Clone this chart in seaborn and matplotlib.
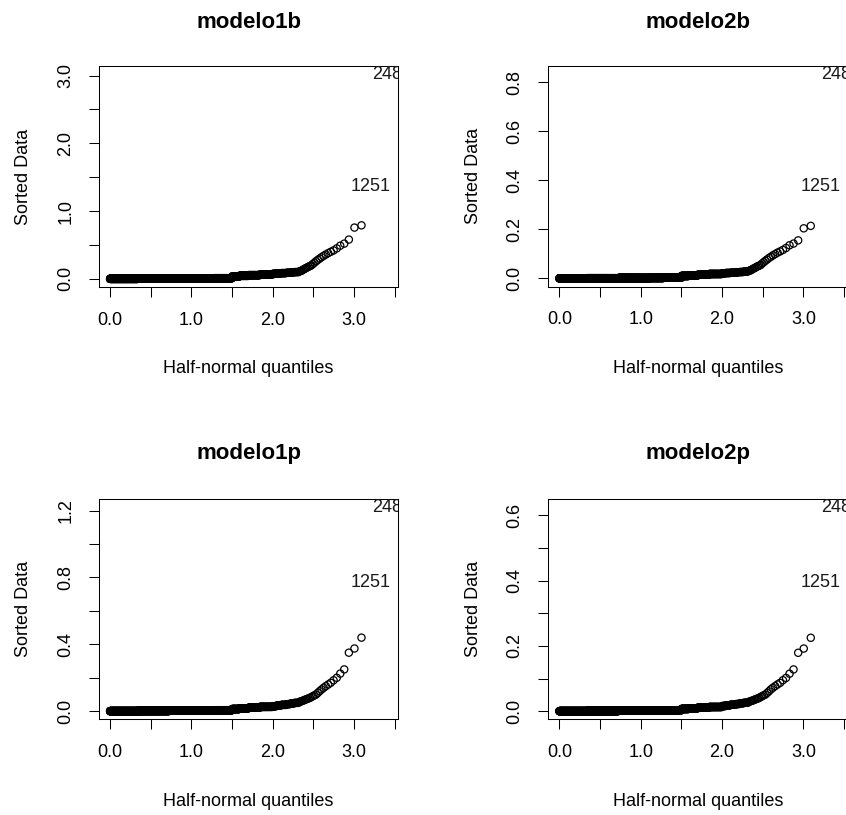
import numpy as np
import pandas as pd
import matplotlib
matplotlib.use("Agg")
import matplotlib.pyplot as plt
import seaborn as sns
from statistics import NormalDist

# ---------------- data ----------------
N_OBS = 1500
label_top = "248"      # largest value
label_second = "1251"  # second largest value

titles = ["modelo1b", "modelo2b", "modelo1p", "modelo2p"]

# largest sorted values (descending), then the dense bulk as (level, count) runs
m1b_tail = [3.02, 1.37, 0.79, 0.757, 0.58, 0.52, 0.49, 0.45, 0.42, 0.40,
            0.38, 0.36, 0.34, 0.32, 0.30, 0.28, 0.26, 0.24, 0.22, 0.20,
            0.19, 0.18, 0.17, 0.16, 0.15, 0.14, 0.13, 0.12, 0.115, 0.11]
m1b_levels = [0.10, 0.095, 0.09, 0.085, 0.08, 0.075, 0.065, 0.055, 0.045, 0.035,
              0.01, 0.008, 0.005, 0.003, 0.001]
m1b_counts = [5, 5, 5, 8, 8, 7, 30, 35, 35, 32, 100, 100, 300, 400, 400]

m2b_tail = [0.832, 0.373, 0.214, 0.204, 0.155, 0.142, 0.135, 0.124, 0.116, 0.11,
            0.105, 0.099, 0.094, 0.088, 0.083, 0.077, 0.072, 0.066, 0.061, 0.055,
            0.052, 0.05, 0.047, 0.044, 0.041, 0.039, 0.036, 0.033, 0.032, 0.03]
m2b_levels = [0.028, 0.026, 0.025, 0.023, 0.022, 0.021, 0.018, 0.015, 0.012, 0.01,
              0.003, 0.002, 0.0014, 0.0008, 0.0003]
m2b_counts = [5, 5, 5, 8, 8, 7, 30, 35, 35, 32, 100, 100, 300, 400, 400]

m1p_tail = [1.22, 0.77, 0.44, 0.375, 0.35, 0.25, 0.225, 0.20, 0.185, 0.17,
            0.16, 0.15, 0.14, 0.13, 0.12, 0.11, 0.10, 0.095, 0.09, 0.085,
            0.08, 0.077, 0.074, 0.071, 0.068, 0.065, 0.062, 0.06, 0.058, 0.055]
m1p_levels = [0.05, 0.046, 0.042, 0.038, 0.034, 0.03, 0.026, 0.021, 0.017, 0.013,
              0.006, 0.004, 0.003, 0.002, 0.0005]
m1p_counts = [5, 5, 5, 8, 8, 7, 30, 35, 35, 32, 100, 100, 300, 400, 400]

m2p_tail = [0.625, 0.394, 0.225, 0.192, 0.179, 0.128, 0.115, 0.102, 0.095, 0.087,
            0.082, 0.077, 0.072, 0.067, 0.061, 0.056, 0.051, 0.049, 0.046, 0.044,
            0.041, 0.039, 0.038, 0.036, 0.035, 0.033, 0.032, 0.031, 0.03, 0.028]
m2p_levels = [0.026, 0.024, 0.022, 0.02, 0.018, 0.016, 0.013, 0.011, 0.009, 0.007,
              0.003, 0.002, 0.0015, 0.001, 0.0003]
m2p_counts = [5, 5, 5, 8, 8, 7, 30, 35, 35, 32, 100, 100, 300, 400, 400]

x_ticks = [0.0, 0.5, 1.0, 1.5, 2.0, 2.5, 3.0, 3.5]
x_ticklabels = ["0.0", "", "1.0", "", "2.0", "", "3.0", ""]

y_ticks = [
    [0.0, 0.5, 1.0, 1.5, 2.0, 2.5, 3.0],
    [0.0, 0.2, 0.4, 0.6, 0.8],
    [0.0, 0.2, 0.4, 0.6, 0.8, 1.0, 1.2],
    [0.0, 0.1, 0.2, 0.3, 0.4, 0.5, 0.6],
]
y_ticklabels = [
    ["0.0", "", "1.0", "", "2.0", "", "3.0"],
    ["0.0", "0.2", "0.4", "0.6", "0.8"],
    ["0.0", "", "0.4", "", "0.8", "", "1.2"],
    ["0.0", "", "0.2", "", "0.4", "", "0.6"],
]

panels = [
    (m1b_tail, m1b_levels, m1b_counts),
    (m2b_tail, m2b_levels, m2b_counts),
    (m1p_tail, m1p_levels, m1p_counts),
    (m2p_tail, m2p_levels, m2p_counts),
]

# ---------------- style ----------------
sns.set_theme(style="ticks")
plt.rcParams["font.family"] = ["Liberation Sans", "DejaVu Sans"]
plt.rcParams["axes.linewidth"] = 0.75
plt.rcParams["xtick.major.width"] = 0.75
plt.rcParams["ytick.major.width"] = 0.75
plt.rcParams["xtick.color"] = "black"
plt.rcParams["ytick.color"] = "black"
plt.rcParams["xtick.labelcolor"] = "black"
plt.rcParams["ytick.labelcolor"] = "black"
plt.rcParams["axes.edgecolor"] = "black"
plt.rcParams["axes.labelcolor"] = "black"
plt.rcParams["axes.titlecolor"] = "black"
plt.rcParams["text.color"] = "black"

W, H = 846, 815
fig = plt.figure(figsize=(W / 100, H / 100), dpi=100)
fig.patch.set_facecolor("white")

# axes boxes in pixels: (left, top, right, bottom)
boxes = [
    (99, 66, 398, 287),
    (548.3, 66, 847.3, 286.5),
    (99, 499, 398, 719.3),
    (548.3, 499, 847.3, 719.3),
]
title_pads = [27.2, 27.2, 28.5, 28.5]

nd = NormalDist()
for idx, ((tail, levels, counts), box) in enumerate(zip(panels, boxes)):
    l, t, r, b = box
    ax = fig.add_axes([l / W, 1 - b / H, (r - l) / W, (b - t) / H])
    vals = np.sort(np.concatenate([np.array(tail), np.repeat(levels, counts)]))
    n = len(vals)
    ui = np.array([nd.inv_cdf((n + i) / (2 * n + 1)) for i in range(1, n + 1)])
    df = pd.DataFrame({"q": ui[: n - 2], "v": vals[: n - 2]})
    sns.scatterplot(data=df, x="q", y="v", ax=ax, marker="o", s=27,
                    facecolors="none", edgecolor="black", linewidth=0.9,
                    legend=False)
    ax.text(ui[n - 2], vals[n - 2], label_second, ha="center", va="center",
            fontsize=13, color="#1a1a1a", clip_on=True)
    ax.text(ui[n - 1], vals[n - 1], label_top, ha="center", va="center",
            fontsize=13, color="#1a1a1a", clip_on=True)

    xlo, xhi = ui.min(), ui.max()
    ylo, yhi = vals.min(), vals.max()
    ax.set_xlim(xlo - 0.04 * (xhi - xlo), xhi + 0.04 * (xhi - xlo))
    ax.set_ylim(ylo - 0.04 * (yhi - ylo), yhi + 0.04 * (yhi - ylo))

    ax.set_xticks(x_ticks)
    ax.set_xticklabels(x_ticklabels)
    ax.set_yticks(y_ticks[idx])
    ax.set_yticklabels(y_ticklabels[idx])
    ax.tick_params(axis="both", length=7.2, labelsize=13, pad=10.5,
                   direction="out", colors="black")
    for lbl in ax.get_yticklabels():
        lbl.set_rotation(90)
        lbl.set_va("center")

    ax.set_title(titles[idx], fontsize=16, fontweight="bold", pad=title_pads[idx],
                 color="black")
    ax.set_xlabel("Half-normal quantiles", fontsize=13, color="black")
    ax.xaxis.label.set_va("baseline")
    ax.xaxis.set_label_coords(0.5, -86.3 / (b - t))
    ax.set_ylabel("Sorted Data", fontsize=13, color="black")
    ax.yaxis.label.set_va("baseline")
    ax.yaxis.set_label_coords(-70.7 / (r - l), 0.5)
    for sp in ax.spines.values():
        sp.set_visible(True)
        sp.set_linewidth(0.75)
        sp.set_color("black")

fig.savefig("out.png", dpi=100, facecolor="white")
